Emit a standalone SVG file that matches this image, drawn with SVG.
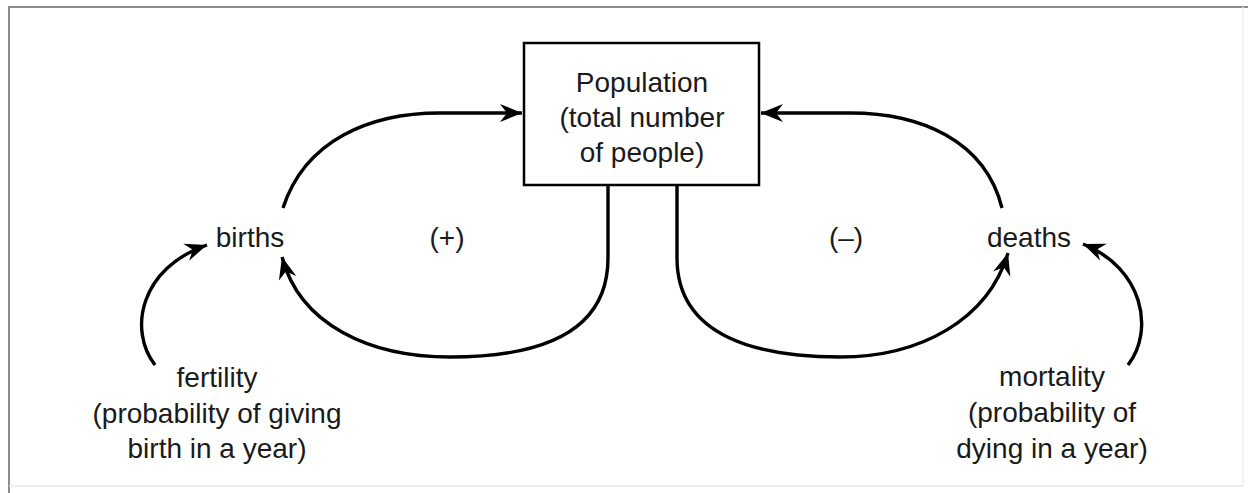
<svg xmlns="http://www.w3.org/2000/svg" width="1248" height="493" viewBox="0 0 1248 493">
<style>
text{font-family:"Liberation Sans",Arial,sans-serif;font-size:28px;fill:#1a1a1a;text-anchor:middle}
.c{fill:none;stroke:#000;stroke-width:3.4}
</style>
<defs>
<marker id="ah" markerUnits="userSpaceOnUse" markerWidth="34" markerHeight="24" refX="2" refY="0" viewBox="-24 -12 34 24" orient="auto">
<path d="M2,0 L-20,-9 L-13,0 L-20,9 Z" fill="#000"/>
</marker>
</defs>
<rect width="1248" height="493" fill="#fff"/>
<g id="frame">
<line x1="9" y1="7" x2="1248" y2="7" stroke="#8c8c8c" stroke-width="2.2"/>
<line x1="9" y1="6" x2="9" y2="493" stroke="#8c8c8c" stroke-width="2"/>
<line x1="9" y1="486" x2="1243" y2="486" stroke="#e8e8e8" stroke-width="1.5"/>
<line x1="1243" y1="7" x2="1243" y2="486" stroke="#f0f0f0" stroke-width="1.5"/>
</g>
<g id="connectors">
<path class="c" d="M283,208 C305,140 370,113 440,113 L522,113" marker-end="url(#ah)"/>
<path class="c" d="M1002,208 C985,140 920,113 850,113 L761,113" marker-end="url(#ah)"/>
<path class="c" d="M608,185 L608,258 C608,338 530,357 450,357 C370,357 300,325 282,257" marker-end="url(#ah)"/>
<path class="c" d="M677,185 L677,258 C677,338 760,357 840,357 C920,357 988,320 1008,253" marker-end="url(#ah)"/>
<path class="c" d="M155,365 C128,330 140,268 207,245" marker-end="url(#ah)"/>
<path class="c" d="M1128,365 C1155,330 1143,268 1083,244" marker-end="url(#ah)"/>
</g>
<g id="population">
<rect x="524" y="43" width="235" height="142" fill="#fff" stroke="#000" stroke-width="2.5"/>
<text x="642" y="92">Population</text>
<text x="642" y="127">(total number</text>
<text x="642" y="162">of people)</text>
</g>
<g id="births"><text x="250" y="247">births</text></g>
<g id="deaths"><text x="1029" y="247">deaths</text></g>
<g id="plus"><text x="447" y="247">(+)</text></g>
<g id="minus"><text x="846" y="247">(–)</text></g>
<g id="fertility">
<text x="217" y="387">fertility</text>
<text x="217" y="423">(probability of giving</text>
<text x="217" y="458">birth in a year)</text>
</g>
<g id="mortality">
<text x="1052" y="386">mortality</text>
<text x="1052" y="422">(probability of</text>
<text x="1052" y="458">dying in a year)</text>
</g>
</svg>
